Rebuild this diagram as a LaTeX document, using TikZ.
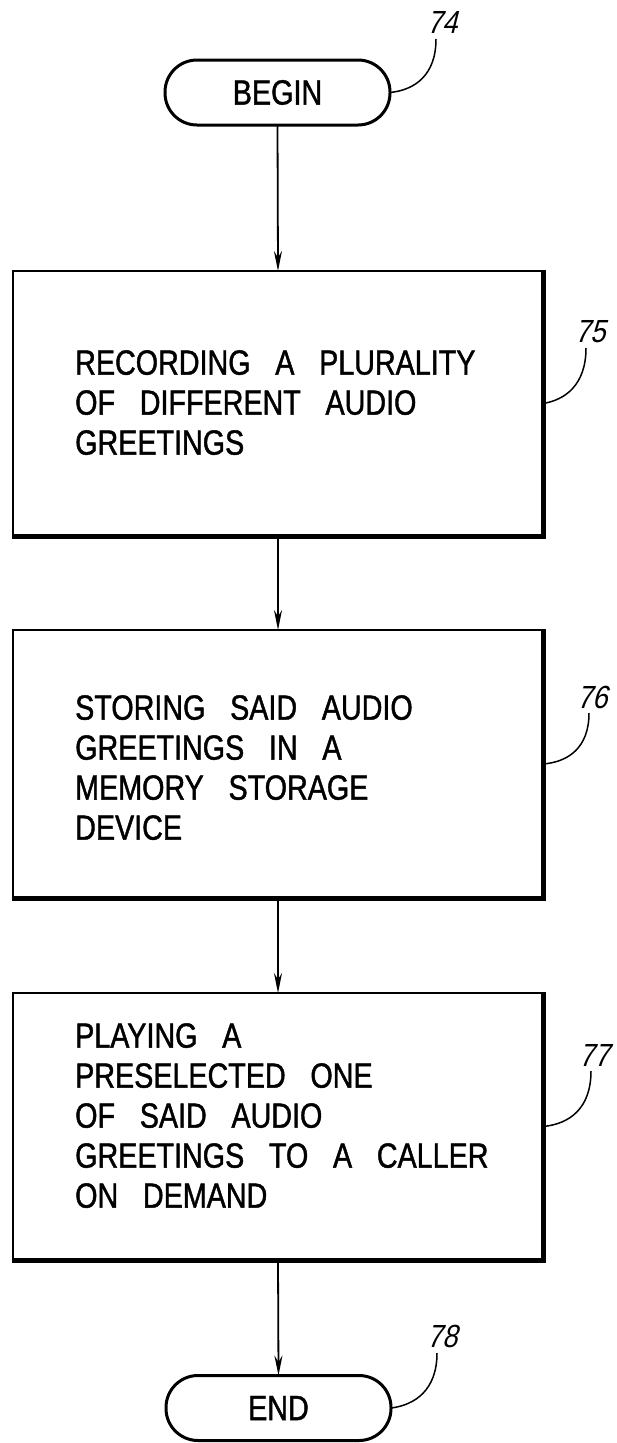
\documentclass[tikz,border=0pt]{standalone}
\usepackage{fontspec}
\newfontfamily\pfont[FakeStretch=0.82,WordSpace=3.1,FakeBold=1.2]{Liberation Sans}
\newfontfamily\lfont[FakeSlant=0.25,FakeStretch=0.85]{Liberation Sans}
\usetikzlibrary{arrows.meta,calc}
\begin{document}
\begin{tikzpicture}[x=1pt,y=-1pt,
  term/.style={draw, line width=3pt, rounded corners=32pt, minimum width=225pt, minimum height=65pt, inner sep=0, outer sep=0, font=\pfont\fontsize{35}{40}\selectfont},
  stepbox/.style={draw, line width=2.4pt, inner sep=0, outer sep=0, anchor=north west, minimum width=530pt},
  heavy/.style={line width=5pt},
  txt/.style={anchor=north west, inner sep=0, align=left, font=\pfont\fontsize{35}{40}\selectfont},
  flow/.style={line width=1.8pt, -{Stealth[length=20pt,width=8pt]}},
  reflabel/.style={font=\lfont\fontsize{32}{32}\selectfont, inner sep=0},
  lead/.style={line width=1.5pt}]
\useasboundingbox (0,0) rectangle (616,1443);

% terminals
\node[term] (begin) at (277.5,92.5) {BEGIN};
\node[term] (end) at (278.5,1408) {END};

% process boxes
\node[stepbox, minimum height=265pt] (b1) at (13,271) {};
\node[stepbox, minimum height=268pt] (b2) at (13,630) {};
\node[stepbox, minimum height=267pt] (b3) at (13,993) {};
\foreach \b in {b1,b2,b3}
  \draw[heavy] ($(\b.north east)+(0,-1)$) -- (\b.south east) -- ($(\b.south west)+(-1,0)$);

% texts
\node[txt] (t1) at (75,350) {RECORDING A PLURALITY\\OF DIFFERENT AUDIO\\GREETINGS};
\node[txt] (t2) at (75,695) {STORING SAID AUDIO\\GREETINGS IN A\\MEMORY STORAGE\\DEVICE};
\node[txt] (t3) at (75,1023) {PLAYING A\\PRESELECTED ONE\\OF SAID AUDIO\\GREETINGS TO A CALLER\\ON DEMAND};

% flow arrows
\draw[flow] (begin.south) -- (b1.north);
\draw[flow] (b1.south) -- (b2.north);
\draw[flow] (b2.south) -- (b3.north);
\draw[flow] (b3.south) -- (end.north);

% reference numerals
\node[reflabel] (l74) at (442,22) {74};
\node[reflabel] (l75) at (590,332) {75};
\node[reflabel] (l76) at (592,697) {76};
\node[reflabel] (l77) at (594,1055) {77};
\node[reflabel] (l78) at (442,1336) {78};

\coordinate (s74) at (436,39);
\coordinate (s75) at (586,348);
\coordinate (s76) at (589,713);
\coordinate (s77) at (591,1071);
\coordinate (s78) at (437,1353);

\draw[lead] (s74) .. controls (436,75) and (415,90) .. (begin.east);
\draw[lead] (s75) .. controls (586,385) and (565,400) .. (b1.east);
\draw[lead] (s76) .. controls (589,748) and (568,762) .. (b2.east);
\draw[lead] (s77) .. controls (591,1108) and (570,1124) .. (b3.east);
\draw[lead] (s78) .. controls (437,1390) and (415,1405) .. (end.east);
\end{tikzpicture}
\end{document}
